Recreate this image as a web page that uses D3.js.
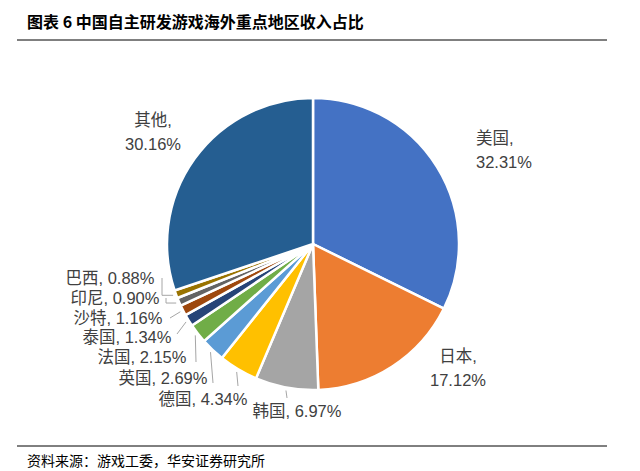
<!DOCTYPE html>
<html lang="zh">
<head>
<meta charset="UTF-8">
<script src="https://d3js.org/d3.v7.min.js"></script>
<style>
  body { margin: 0; background: #fff; }
  svg { display: block; }
  text { font-family: "Liberation Sans", Arial, "Noto Sans CJK SC", sans-serif; }
</style>
</head>
<body>
<svg id="chart" width="640" height="471"></svg>
<script>
const regions = ["美国", "日本", "韩国", "德国", "英国", "法国", "泰国", "沙特", "印尼", "巴西", "其他"];
const shares = [32.31, 17.12, 6.97, 4.34, 2.69, 2.15, 1.34, 1.16, 0.90, 0.88, 30.16];
const colors = ["#4472C4", "#ED7D31", "#A5A5A5", "#FFC000", "#5B9BD5", "#70AD47",
                "#264478", "#9E480E", "#636363", "#997300", "#255E91"];

// label placement: [text x, text y, anchor, two lines?, leader end x, leader end y]
const labelPos = [
  [476, 144, "start", true, null, null],
  [458, 362, "middle", true, null, null],
  [297, 417, "middle", false, 287, 398],
  [203, 405, "middle", false, 238, 386],
  [163, 384, "middle", false, 213, 383],
  [142, 363, "middle", false, 196, 362],
  [127, 343, "middle", false, 177, 334],
  [118, 324, "middle", false, 170, 318],
  [115, 304, "middle", false, 166, 298],
  [110, 284, "middle", false, 162, 278],
  [153, 126, "middle", true, null, null]
];

const svg = d3.select("#chart");
const cx = 313, cy = 244, r = 146;

svg.append("text").attr("x", 27).attr("y", 28)
  .attr("font-size", 16).attr("font-weight", "bold").attr("fill", "#000")
  .style("font-family", "'Noto Sans CJK SC', sans-serif")
  .text("图表 6  中国自主研发游戏海外重点地区收入占比");
svg.append("line").attr("x1", 17).attr("x2", 607).attr("y1", 40).attr("y2", 40)
  .attr("stroke", "#000").attr("stroke-width", 1);
svg.append("line").attr("x1", 17).attr("x2", 607).attr("y1", 446).attr("y2", 446)
  .attr("stroke", "#000").attr("stroke-width", 1);
svg.append("text").attr("x", 27).attr("y", 466)
  .attr("font-size", 14).attr("fill", "#000")
  .style("font-family", "'Noto Sans CJK SC', sans-serif")
  .text("资料来源：游戏工委，华安证券研究所");

const data = regions.map((name, i) => ({ name, value: shares[i], color: colors[i], pos: labelPos[i] }));
const pie = d3.pie().value(d => d.value).sort(null);
const arcs = pie(data);
const arc = d3.arc().innerRadius(0).outerRadius(r);

const g = svg.append("g").attr("transform", `translate(${cx},${cy})`);
g.selectAll("path").data(arcs).join("path")
  .attr("d", arc)
  .attr("fill", d => d.data.color)
  .attr("stroke", "#fff").attr("stroke-width", 2.5);

const fmt = v => v.toFixed(2) + "%";
arcs.forEach(a => {
  const [lx, ly, anchor, twoLines, ex, ey] = a.data.pos;
  const t = svg.append("text").attr("x", lx).attr("y", ly)
    .attr("text-anchor", anchor).attr("font-size", 16.5).attr("fill", "#404040");
  if (twoLines) {
    t.append("tspan").attr("x", lx).text(a.data.name + ",");
    t.append("tspan").attr("x", lx).attr("dy", 24).text(fmt(a.data.value));
  } else {
    t.text(a.data.name + ", " + fmt(a.data.value));
    const mid = (a.startAngle + a.endAngle) / 2;
    const sx = cx + Math.sin(mid) * (r + 3), sy = cy - Math.cos(mid) * (r + 3);
    svg.append("polyline")
      .attr("points", `${sx},${sy} ${ex},${Math.max(ey, sy)} ${ex},${ey}`)
      .attr("fill", "none").attr("stroke", "#A6A6A6").attr("stroke-width", 1);
  }
});
</script>
</body>
</html>
